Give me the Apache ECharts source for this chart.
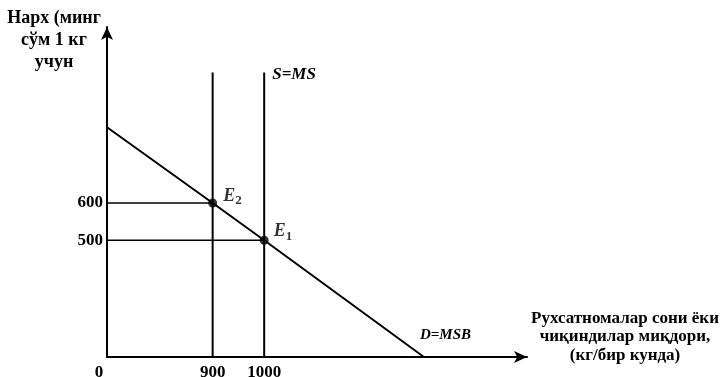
<!DOCTYPE html>
<html>
<head>
<meta charset="utf-8">
<script src="https://cdn.jsdelivr.net/npm/echarts@6.0.0/dist/echarts.min.js"></script>
<style>html,body{margin:0;padding:0;background:#fff}#c{width:726px;height:377px}</style>
</head>
<body>
<div id="c"></div>
<script>
// Data (real units; the diagram is not drawn to scale, so axis breaks compress the low ranges)
const xTickValues = [0, 900, 1000];
const yTickValues = [500, 600];
const demandQ = [0, 900, 1000, 1310];
const demandP = [803, 600, 500, 0];
const eqNames = ['2', '1'];
const eqQ = [900, 1000];
const eqP = [600, 500];
const verticalTop = 950;
const demandName = 'D=MSB';
const supplyName = 'S=MS';
const yTitle = 'Нарх (минг\nсўм 1 кг\nучун';
const xTitle = 'Рухсатномалар сони ёки\nчиқиндилар миқдори,\n(кг/бир кунда)';

const FONT = '"Liberation Serif", "DejaVu Serif", serif';
const chart = echarts.init(document.getElementById('c'));

const lineStyle = {color: '#000', width: 2};
const series = [];
// Demand line
series.push({
  type: 'line', silent: true, showSymbol: false, symbol: 'none',
  data: demandQ.map((q, i) => [q, demandP[i]]),
  lineStyle: lineStyle,
  endLabel: {show: true, formatter: demandName, color: '#000', fontFamily: FONT,
    fontStyle: 'italic', fontWeight: 'bold', fontSize: 15, distance: 0, offset: [-4, -22], align: 'left'}
});
// Vertical lines at equilibrium quantities
eqQ.forEach((q, i) => {
  series.push({
    type: 'line', silent: true, showSymbol: false, symbol: 'none',
    data: [[q, 0], [q, verticalTop]],
    lineStyle: lineStyle,
    endLabel: {show: i === 1, formatter: supplyName, color: '#000', fontFamily: FONT,
      fontStyle: 'italic', fontWeight: 'bold', fontSize: 17, distance: 8, offset: [0, 2]}
  });
  // Horizontal lines to price axis
  series.push({
    type: 'line', silent: true, showSymbol: false, symbol: 'none',
    data: [[0, eqP[i]], [q, eqP[i]]],
    lineStyle: {color: '#000', width: 1.5}
  });
});
// Equilibrium points
series.push({
  type: 'scatter', silent: true, symbolSize: 9,
  itemStyle: {color: '#000'},
  data: eqQ.map((q, i) => ({
    value: [q, eqP[i]],
    label: {show: true, position: 'right', distance: i === 0 ? 6 : 5,
      offset: i === 0 ? [0, -7] : [0, -9],
      formatter: '{e|E}{s|' + eqNames[i] + '}'}
  })),
  label: {
    color: '#000',
    rich: {
      e: {fontFamily: FONT, fontStyle: 'italic', fontWeight: 'bold', fontSize: 18, color: '#000'},
      s: {fontFamily: FONT, fontWeight: 'bold', fontSize: 13, color: '#000', verticalAlign: 'bottom', padding: [10, 0, 0, 0]}
    }
  },
  z: 5
});

chart.setOption({
  animation: false,
  backgroundColor: '#fff',
  grid: {left: 107, right: 199, top: 27, bottom: 20, containLabel: false, outerBoundsMode: 'none'},
  xAxis: {
    type: 'value', min: 0, max: 1510,
    breaks: [{start: 50, end: 745, gap: 0}],
    breakArea: {show: false},
    axisLine: {show: true, onZero: false, lineStyle: {color: '#000', width: 2}, symbol: ['none', 'arrow'], symbolSize: [9, 13]},
    axisTick: {show: false},
    splitLine: {show: false},
    axisLabel: {
      customValues: xTickValues, margin: 7, color: '#000', fontFamily: FONT, fontWeight: 'bold', fontSize: 17,
      formatter: v => v === 0 ? '{z|0}' : String(v),
      rich: {z: {fontFamily: FONT, fontWeight: 'bold', fontSize: 17, color: '#000', padding: [0, 16, 16, 0]}}
    }
  },
  yAxis: {
    type: 'value', min: 0, max: 1072,
    breaks: [{start: 100, end: 287, gap: 0}],
    breakArea: {show: false},
    axisLine: {show: true, onZero: false, lineStyle: {color: '#000', width: 2}, symbol: ['none', 'arrow'], symbolSize: [9, 13]},
    axisTick: {show: false},
    splitLine: {show: false},
    axisLabel: {customValues: yTickValues, margin: 4, color: '#000', fontFamily: FONT, fontWeight: 'bold', fontSize: 17}
  },
  graphic: [
    {type: 'text', x: 54, y: 7, style: {text: yTitle, font: 'bold 18px ' + FONT, fill: '#000', align: 'center', verticalAlign: 'top', lineHeight: 22}},
    {type: 'text', x: 625, y: 309, style: {text: xTitle, font: 'bold 17px ' + FONT, fill: '#000', align: 'center', verticalAlign: 'top', lineHeight: 18.5}}
  ],
  series: series
});
</script>
</body>
</html>
